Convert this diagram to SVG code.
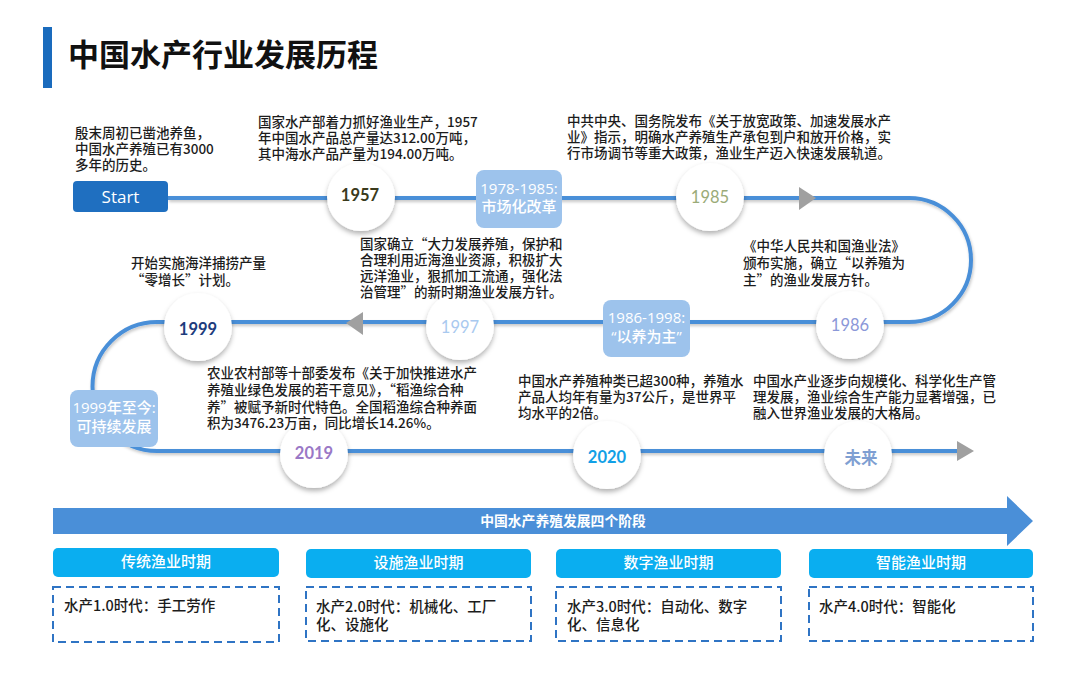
<svg xmlns="http://www.w3.org/2000/svg" width="1080" height="673" viewBox="0 0 1080 673">
<defs>
<filter id="sh" x="-30%" y="-30%" width="160%" height="170%">
<feDropShadow dx="0" dy="3" stdDeviation="2.5" flood-color="#000" flood-opacity="0.3"/>
</filter>
<filter id="lsh" x="-5%" y="-10%" width="110%" height="120%">
<feDropShadow dx="1" dy="2" stdDeviation="1.5" flood-color="#000" flood-opacity="0.22"/>
</filter>
</defs>
<style>
.cjk{font-family:"Noto Sans CJK SC","Microsoft YaHei",sans-serif}
.desc{font-family:"Noto Sans CJK SC","Microsoft YaHei",sans-serif;font-size:13.5px;fill:#1c1c1c;font-weight:500}
.yr{font-family:Lato,"Noto Sans CJK SC",sans-serif;font-size:16.5px;text-anchor:middle}
.circ{fill:#fff;filter:url(#sh)}
.badge{fill:#9dc3ec}
.btxt{font-family:"Open Sans","Noto Sans CJK SC",sans-serif;font-size:15px;fill:#fff;text-anchor:middle;font-weight:500}
.hdr{fill:#0aaef0}
.htxt{font-family:"Noto Sans CJK SC",sans-serif;font-size:15px;fill:#fff;text-anchor:middle;font-weight:500}
.dash{fill:none;stroke:#2f74c4;stroke-width:2;stroke-dasharray:8 5}
.btx{font-family:"Noto Sans CJK SC",sans-serif;font-size:14.5px;fill:#1c1c1c;font-weight:500}
.arr{fill:#a0a0a0}
</style>
<rect width="1080" height="673" fill="#fff"/>

<g id="title">
<rect x="43" y="27" width="9" height="61" fill="#1a6bbd"/>
<text x="68" y="66" class="cjk" font-size="31" font-weight="700" fill="#111">中国水产行业发展历程</text>
</g>

<g id="connectors">
<path d="M168,198 H909 A62,62 0 0 1 909,322 H157 A64.5,64.5 0 0 0 157,451 H958" fill="none" stroke="#4a8fd8" stroke-width="4" filter="url(#lsh)"/>
<polygon class="arr" points="799,187 816,198 799,210"/>
<polygon class="arr" points="363,312 346,323 363,335"/>
<polygon class="arr" points="957,441 974,451 957,461"/>
</g>

<g id="start">
<rect x="73" y="181" width="95" height="31" rx="4" fill="#1f6fc0"/>
<text x="120.5" y="203" font-family="'Open Sans',sans-serif" font-size="17" fill="#fff" text-anchor="middle">Start</text>
<text class="desc" x="75"><tspan x="75" y="138">殷末周初已凿池养鱼，</tspan><tspan x="75" y="154">中国水产养殖已有3000</tspan><tspan x="75" y="170">多年的历史。</tspan></text>
</g>

<g id="n1957">
<circle class="circ" cx="361" cy="197" r="34"/>
<text class="yr" x="360" y="201" fill="#3a3a1c" font-weight="700">1957</text>
<text class="desc"><tspan x="258" y="127">国家水产部着力抓好渔业生产，1957</tspan><tspan x="258" y="143">年中国水产品总产量达312.00万吨，</tspan><tspan x="258" y="159">其中海水产品产量为194.00万吨。</tspan></text>
</g>

<g id="b1978">
<rect class="badge" x="476" y="170" width="86" height="58" rx="8"/>
<text class="btxt"><tspan x="519" y="194">1978-1985:</tspan><tspan x="519" y="212">市场化改革</tspan></text>
</g>

<g id="n1985">
<circle class="circ" cx="710" cy="197" r="34"/>
<text class="yr" x="710" y="203" fill="#9aab78">1985</text>
<text class="desc"><tspan x="567" y="126">中共中央、国务院发布《关于放宽政策、加速发展水产</tspan><tspan x="567" y="142">业》指示，明确水产养殖生产承包到户和放开价格，实</tspan><tspan x="567" y="158">行市场调节等重大政策，渔业生产迈入快速发展轨道。</tspan></text>
</g>

<g id="n1986">
<circle class="circ" cx="850" cy="325" r="34"/>
<text class="yr" x="850" y="331" fill="#8b98d8">1986</text>
<text class="desc"><tspan x="743" y="251">《中华人民共和国渔业法》</tspan><tspan x="743" y="268">颁布实施，确立“以养殖为</tspan><tspan x="743" y="285">主”的渔业发展方针。</tspan></text>
</g>

<g id="b1986">
<rect class="badge" x="603" y="300" width="87" height="57" rx="8"/>
<text class="btxt"><tspan x="646.5" y="323">1986-1998:</tspan><tspan x="646.5" y="342">“以养为主”</tspan></text>
</g>

<g id="n1997">
<circle class="circ" cx="460" cy="326" r="34"/>
<text class="yr" x="460" y="333" fill="#a9c9ef">1997</text>
<text class="desc"><tspan x="360" y="249">国家确立“大力发展养殖，保护和</tspan><tspan x="360" y="265">合理利用近海渔业资源，积极扩大</tspan><tspan x="360" y="281">远洋渔业，狠抓加工流通，强化法</tspan><tspan x="360" y="297">治管理”的新时期渔业发展方针。</tspan></text>
</g>

<g id="n1999">
<circle class="circ" cx="198" cy="327" r="34"/>
<text class="yr" x="198" y="335" fill="#1d3c7d" font-weight="700">1999</text>
<text class="desc"><tspan x="131" y="268">开始实施海洋捕捞产量</tspan><tspan x="131" y="285">“零增长”计划。</tspan></text>
</g>

<g id="b1999">
<rect class="badge" x="70" y="390" width="88" height="57" rx="8"/>
<text class="btxt"><tspan x="114" y="413">1999年至今:</tspan><tspan x="114" y="432">可持续发展</tspan></text>
</g>

<g id="n2019">
<circle class="circ" cx="314" cy="454" r="34"/>
<text class="yr" x="314" y="459" fill="#9a78c6" font-weight="700">2019</text>
<text class="desc"><tspan x="207" y="378">农业农村部等十部委发布《关于加快推进水产</tspan><tspan x="207" y="395">养殖业绿色发展的若干意见》，“稻渔综合种</tspan><tspan x="207" y="412">养”被赋予新时代特色。全国稻渔综合种养面</tspan><tspan x="207" y="428">积为3476.23万亩，同比增长14.26%。</tspan></text>
</g>

<g id="n2020">
<circle class="circ" cx="607" cy="455" r="34"/>
<text class="yr" x="607" y="463" fill="#12a0e6" font-weight="700">2020</text>
<text class="desc"><tspan x="518" y="386">中国水产养殖种类已超300种，养殖水</tspan><tspan x="518" y="402">产品人均年有量为37公斤，是世界平</tspan><tspan x="518" y="418">均水平的2倍。</tspan></text>
</g>

<g id="nfuture">
<circle class="circ" cx="858" cy="455" r="34"/>
<text class="yr cjk" x="861" y="464" fill="#7f9fd2" font-weight="700" font-size="17">未来</text>
<text class="desc"><tspan x="753" y="386">中国水产业逐步向规模化、科学化生产管</tspan><tspan x="753" y="402">理发展，渔业综合生产能力显著增强，已</tspan><tspan x="753" y="418">融入世界渔业发展的大格局。</tspan></text>
</g>

<g id="stages">
<polygon points="53,508 1007,508 1007,496 1033,521 1007,546 1007,534 53,534" fill="#4a8fd8"/>
<text x="563" y="526" class="cjk" font-size="13.8" font-weight="700" fill="#fff" text-anchor="middle">中国水产养殖发展四个阶段</text>
</g>

<g id="s1">
<rect class="hdr" x="53" y="548" width="226" height="29" rx="5"/>
<text class="htxt" x="166" y="567">传统渔业时期</text>
<rect class="dash" x="53" y="587" width="226" height="55"/>
<text class="btx" x="64" y="611">水产1.0时代：手工劳作</text>
</g>
<g id="s2">
<rect class="hdr" x="306" y="549" width="225" height="29" rx="5"/>
<text class="htxt" x="418.5" y="568">设施渔业时期</text>
<rect class="dash" x="306" y="587" width="225" height="54"/>
<text class="btx"><tspan x="316" y="612">水产2.0时代：机械化、工厂</tspan><tspan x="316" y="630">化、设施化</tspan></text>
</g>
<g id="s3">
<rect class="hdr" x="556" y="549" width="225" height="29" rx="5"/>
<text class="htxt" x="668.5" y="568">数字渔业时期</text>
<rect class="dash" x="556" y="587" width="225" height="54"/>
<text class="btx"><tspan x="567" y="612">水产3.0时代：自动化、数字</tspan><tspan x="567" y="630">化、信息化</tspan></text>
</g>
<g id="s4">
<rect class="hdr" x="809" y="549" width="224" height="29" rx="5"/>
<text class="htxt" x="921" y="568">智能渔业时期</text>
<rect class="dash" x="809" y="587" width="224" height="54"/>
<text class="btx" x="819" y="612">水产4.0时代：智能化</text>
</g>
</svg>
